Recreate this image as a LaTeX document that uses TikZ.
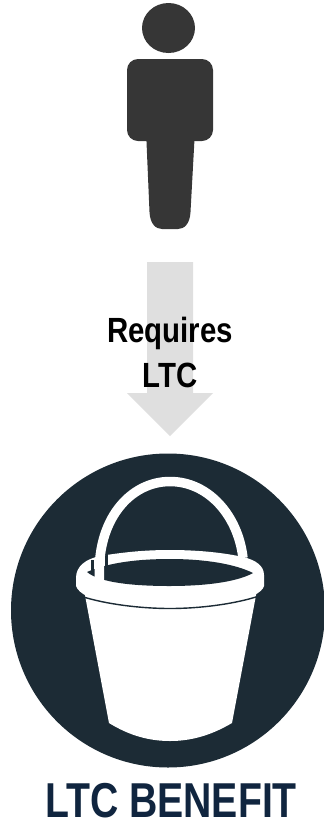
\documentclass[tikz,border=0pt]{standalone}
\usepackage{fontspec}
\setmainfont{Liberation Sans}
\usepackage{tikz}
\definecolor{figure}{HTML}{363636}
\definecolor{arrowgray}{HTML}{DFDFDF}
\definecolor{disc}{HTML}{1C2B35}
\definecolor{title}{HTML}{10253F}

\begin{document}
\begin{tikzpicture}[x=1pt,y=-1pt,
  bodyfill/.style={fill=figure,draw=none},
  pail/.style={fill=white,draw=none},
  lbl/.style={align=center,font=\fontsize{35}{45}\selectfont\bfseries,text=black,inner sep=0pt,xscale=0.84},
  ttl/.style={anchor=base,font=\fontsize{49}{49}\selectfont\bfseries,text=title,inner sep=0pt,xscale=0.80}]
  \useasboundingbox (0,0) rectangle (324,820);
  % orang
  \fill[bodyfill] (168.5,28) ellipse [x radius=26.5,y radius=25];
  \fill[bodyfill,rounded corners=11pt] (127,59) rectangle (213,141);
  \fill[bodyfill] (146,130) -- (195,130) -- (190.5,212)
    .. controls (190,224) and (184,229) .. (178,229) -- (162,229)
    .. controls (156,229) and (150,224) .. (149.5,212) -- cycle;
  % panah
  \fill[arrowgray] (147,262) -- (193,262) -- (193,393) -- (213,393) -- (170,436)
    -- (127,393) -- (147,393) -- cycle;
  \node[lbl] (req) at (170,352) {Requires\\LTC};
  % lingkaran
  \fill[disc] (168,610.5) circle [radius=157];
  % ember
  \fill[pail] (84,590) -- (257,590) -- (232,723)
    .. controls (210,736) and (190,741) .. (170,741)
    .. controls (150,741) and (130,736) .. (109,723) -- cycle;
  \fill[pail] (76,578)
    .. controls (76,566) and (86,559) .. (100,556)
    .. controls (125,552) and (145,550) .. (170,550)
    .. controls (200,550) and (225,553) .. (243,557)
    .. controls (256,560) and (264,566) .. (264,575)
    -- (264,586)
    .. controls (260,600) and (215,607) .. (170,607)
    .. controls (125,607) and (82,602) .. (76,586) -- cycle;
  \draw[disc,line width=1.4pt] (82,596.5)
    .. controls (105,604) and (140,608.5) .. (170,608.5)
    .. controls (200,608.5) and (235,604) .. (259,596);
  \fill[disc] (87,572)
    .. controls (110,562) and (140,559) .. (170,559)
    .. controls (205,559) and (235,564) .. (253,573)
    .. controls (235,583) and (200,586) .. (170,586)
    .. controls (135,586) and (100,583) .. (87,572) -- cycle;
  % pegangan
  \draw[disc,line width=3.5pt] (92.5,560) -- (92.5,573);
  \draw[disc,line width=3.5pt] (106.5,553) -- (106.5,566);
  \draw[white,line width=9.5pt] (99.5,580)
    .. controls (96,520) and (130,481.5) .. (170,481.5)
    .. controls (208,481.5) and (238,515) .. (243,558);
  \node[ttl] (benefit) at (171,817) {LTC BENEFIT};
\end{tikzpicture}
\end{document}
